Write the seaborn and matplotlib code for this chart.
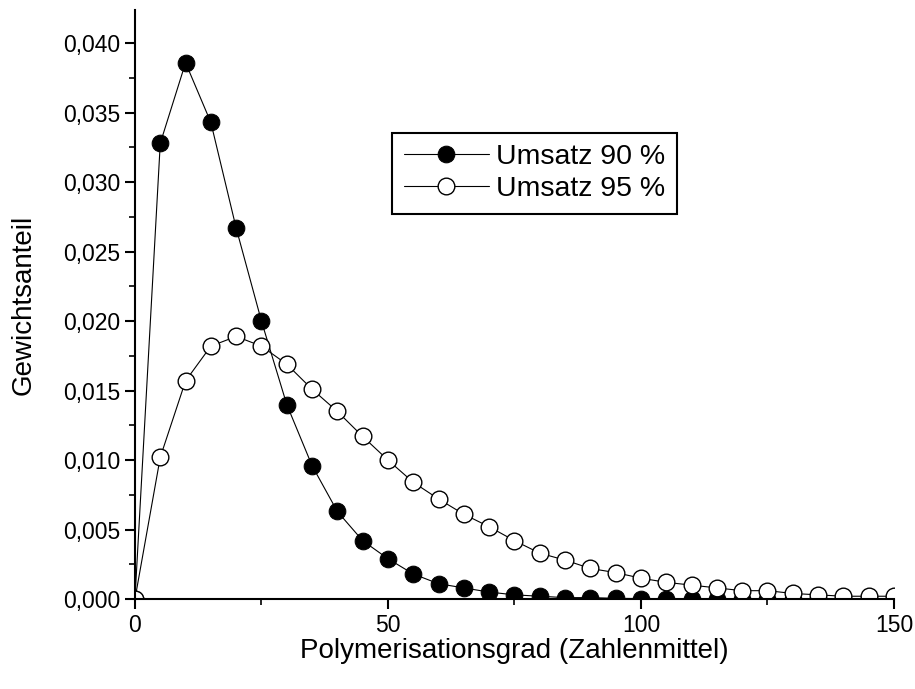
import numpy as np
import pandas as pd
import matplotlib
matplotlib.use("Agg")
import matplotlib.pyplot as plt
import seaborn as sns
from matplotlib.ticker import MultipleLocator, FuncFormatter

# Polymerisationsgrad (x) und Gewichtsanteil fuer zwei Umsaetze
grad = list(range(0, 155, 5))
umsatz_90 = [0.0, 0.0328, 0.0386, 0.0343, 0.0267, 0.0200, 0.0140, 0.0096, 0.0063,
             0.0042, 0.0029, 0.0018, 0.0011, 0.0008, 0.0005, 0.0003, 0.0002,
             0.0001, 0.0001, 0.00005, 0.00003, 0.00002, 0.00001, 0.00001,
             0.0, 0.0, 0.0, 0.0, 0.0, 0.0, 0.0]
umsatz_95 = [0.0, 0.0102, 0.0157, 0.0182, 0.0189, 0.0182, 0.0169, 0.0151, 0.0135,
             0.0117, 0.0100, 0.0084, 0.0072, 0.0061, 0.0052, 0.0042, 0.0033,
             0.0028, 0.0022, 0.0019, 0.0015, 0.0012, 0.0010, 0.0008, 0.0006,
             0.0006, 0.0004, 0.0003, 0.0002, 0.0002, 0.0002]
labels = ["Umsatz 90 %", "Umsatz 95 %"]


def fmt_komma(v, pos):
    return "{:.3f}".format(v).replace(".", ",")


def main():
    sns.set_theme(style="ticks")
    plt.rcParams['font.family'] = ['Liberation Sans', 'DejaVu Sans']
    plt.rcParams['text.color'] = 'black'
    plt.rcParams['axes.labelcolor'] = 'black'

    df = pd.DataFrame({'x': grad, 'u90': umsatz_90, 'u95': umsatz_95})

    fg = plt.figure(figsize=(9.15, 6.89), dpi=100)
    ax = fg.add_axes([0.1475, 0.1306, 0.8295, 0.855])

    sns.lineplot(x='x', y='u90', data=df, ax=ax, color='black', linewidth=0.8,
                 marker='o', markersize=12, markerfacecolor='black',
                 markeredgecolor='black', label=labels[0])
    sns.lineplot(x='x', y='u95', data=df, ax=ax, color='black', linewidth=0.8,
                 marker='o', markersize=12, markerfacecolor='white',
                 markeredgecolor='black', markeredgewidth=1.0, label=labels[1])

    ax.set_xlim(0, 150)
    ax.set_ylim(0, 0.0424)
    ax.xaxis.set_major_locator(MultipleLocator(50))
    ax.xaxis.set_minor_locator(MultipleLocator(25))
    ax.yaxis.set_major_locator(MultipleLocator(0.005))
    ax.yaxis.set_minor_locator(MultipleLocator(0.0025))
    ax.yaxis.set_major_formatter(FuncFormatter(fmt_komma))

    for s in ['top', 'right']:
        ax.spines[s].set_visible(False)
    for s in ['left', 'bottom']:
        ax.spines[s].set_linewidth(1.5)
        ax.spines[s].set_color('black')

    ax.tick_params(which='major', direction='out', length=7, width=1.5,
                   labelsize=16.5, colors='black')
    ax.tick_params(which='minor', direction='out', length=4, width=1.2,
                   colors='black')

    ax.set_xlabel('Polymerisationsgrad (Zahlenmittel)', fontsize=20, labelpad=1)
    ax.set_ylabel('Gewichtsanteil', fontsize=20, labelpad=19)

    leg = ax.legend(loc='upper left', bbox_to_anchor=(0.339, 0.791),
                    borderaxespad=0, fontsize=20.5, fancybox=False,
                    edgecolor='black', framealpha=1, handlelength=3.0,
                    handletextpad=0.25, labelspacing=0.2, borderpad=0.4)
    leg.get_frame().set_linewidth(1.5)

    fg.savefig('out.png', dpi=100)


if __name__ == '__main__':
    main()
